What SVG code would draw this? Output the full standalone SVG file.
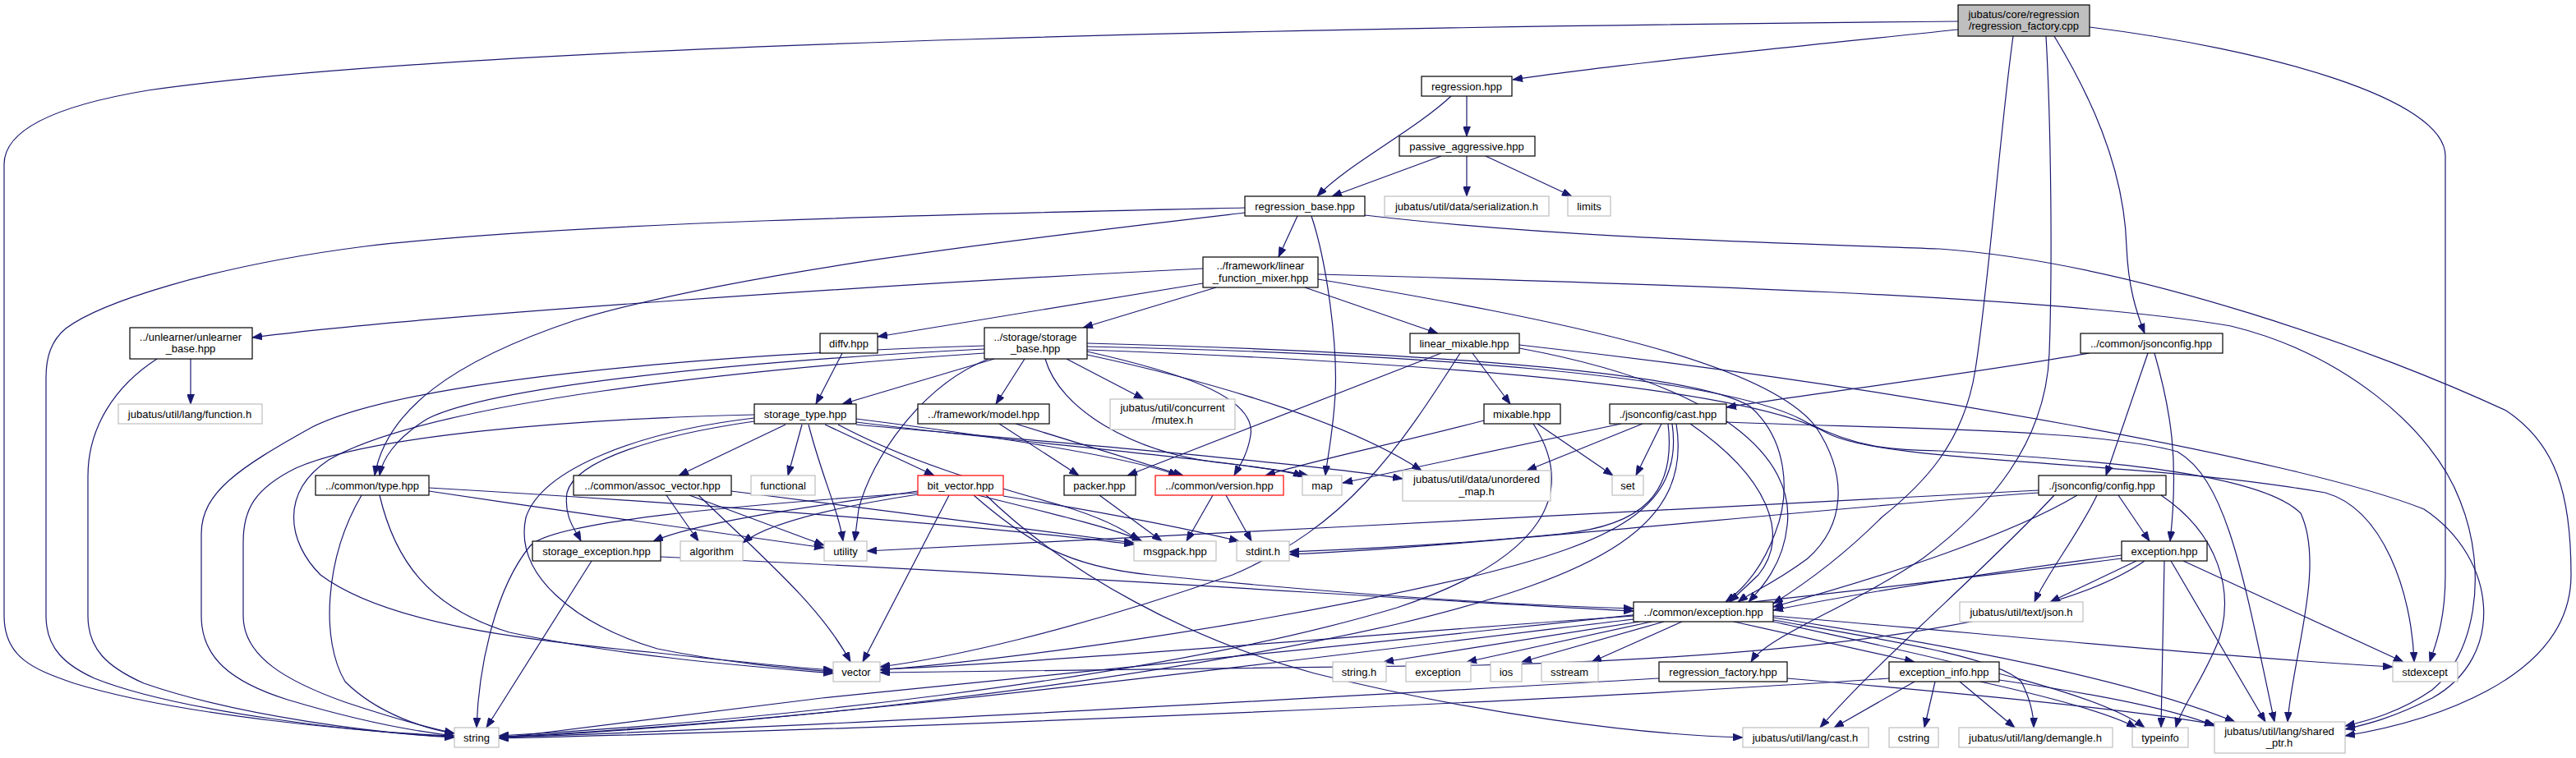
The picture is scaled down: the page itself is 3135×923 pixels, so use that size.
<svg xmlns="http://www.w3.org/2000/svg" width="3135" height="923" viewBox="0 0 3135 923">
<style>
.bg{fill:#fff}
.n rect{fill:#fff;stroke:#000;stroke-width:1.2}
.g rect{fill:#fff;stroke:#bfbfbf;stroke-width:1.2}
.r rect{fill:#fff;stroke:#ff0000;stroke-width:1.2}
.root rect{fill:#bfbfbf;stroke:#000;stroke-width:1.2}
text{font-family:"Liberation Sans",Arial,Helvetica,sans-serif;font-size:13px;text-anchor:middle;fill:#000}
#edges path{fill:none;stroke:#191970;stroke-width:1.2;marker-end:url(#ah)}
</style>
<defs>
<marker id="ah" markerWidth="12" markerHeight="9" refX="12" refY="4.5" orient="auto" markerUnits="userSpaceOnUse"><path d="M0,0 L12,4.5 L0,9 z" fill="#191970" stroke="#191970" stroke-width="0.8"/></marker>
</defs>
<rect class="bg" x="0" y="0" width="3135" height="923"/>
<g id="edges">
<path d="M2383,36 C2200,55 1950,80 1841,97"/>
<path d="M2383,26 C1700,32 600,50 180,110 C60,130 5,160 5,200 L5,750 C5,800 40,815 90,832 C220,872 450,892 553,896"/>
<path d="M2490,44 C2496,150 2498,320 2494,430 C2490,540 2420,620 2340,680 C2250,740 2150,775 2131,806"/>
<path d="M2450,44 C2435,150 2420,350 2404,450 C2390,540 2340,590 2290,630 C2240,680 2190,715 2158,735"/>
<path d="M2500,44 C2540,110 2585,200 2588,300 C2590,350 2600,380 2610,406"/>
<path d="M2543,33 C2760,60 2976,120 2976,190 L2976,700 C2976,760 2962,790 2957,806"/>
<path d="M1766,117 C1720,160 1640,200 1603,239"/>
<path d="M1785,117 L1785,166"/>
<path d="M1754,190 L1621,239"/>
<path d="M1785,190 L1785,239"/>
<path d="M1808,190 L1913,239"/>
<path d="M1515,253 C1200,260 700,270 444,300 C250,325 120,370 80,400 C62,415 56,435 56,460 L56,750 C56,790 80,810 115,826 C220,868 450,893 553,897"/>
<path d="M1515,259 C1250,290 900,330 700,390 C550,440 470,500 456,579"/>
<path d="M1579,263 L1556,313"/>
<path d="M1596,263 C1615,320 1628,420 1625,480 C1622,530 1615,560 1613,579"/>
<path d="M1661,262 C1900,290 2150,295 2360,303 C2600,320 2900,430 3050,500 C3110,540 3129,600 3129,700 C3129,830 2950,880 2854,896"/>
<path d="M1464,327 C1100,345 500,385 307,411"/>
<path d="M1464,345 L1068,410"/>
<path d="M1480,350 L1318,399"/>
<path d="M1588,350 L1750,406"/>
<path d="M1604,340 C1900,390 2150,440 2210,520 C2250,580 2245,640 2200,680 C2160,710 2130,722 2115,733"/>
<path d="M1604,334 C2000,345 2500,360 2715,397 C2850,430 2960,520 2994,610 C3030,700 3010,800 2960,840 C2920,868 2880,878 2854,884"/>
<path d="M232,437 L232,492"/>
<path d="M191,437 C140,470 107,520 107,580 L107,750 C107,790 130,812 175,832 C290,872 460,893 553,898"/>
<path d="M1025,430 L993,492"/>
<path d="M1210,437 L1025,492"/>
<path d="M1247,437 L1212,492"/>
<path d="M1298,437 L1392,486"/>
<path d="M1323,428 C1420,450 1530,480 1522,530 C1518,555 1507,570 1502,579"/>
<path d="M1272,437 C1290,500 1380,550 1480,563 C1540,570 1570,574 1586,580"/>
<path d="M1323,432 C1500,470 1650,520 1730,573"/>
<path d="M1198,421 C900,430 500,460 380,520 C290,570 245,600 245,650 L245,750 C245,800 280,830 350,852 C430,876 500,890 553,896"/>
<path d="M1198,430 C900,450 520,490 400,560 C340,600 350,660 390,700 C470,760 640,780 800,795 C900,806 970,813 1014,816"/>
<path d="M1198,425 C900,440 600,470 520,510 C480,535 465,560 462,579"/>
<path d="M1203,437 C1120,470 1060,560 1045,620 L1040,659"/>
<path d="M1323,418 C1600,425 2050,445 2130,495 C2175,535 2180,600 2160,650 C2145,690 2125,715 2100,733"/>
<path d="M1323,422 C1700,430 2100,455 2200,515 C2260,545 2300,548 2360,549 C2550,560 2750,575 2800,625 C2830,690 2790,800 2784,879"/>
<path d="M1323,426 C1700,440 2120,468 2225,528 C2300,565 2600,560 2830,600 C2900,620 2935,720 2938,806"/>
<path d="M1754,430 L1372,579"/>
<path d="M1792,430 L1838,492"/>
<path d="M1777,430 C1700,550 1640,640 1500,700 C1300,770 1150,802 1071,812"/>
<path d="M1849,424 C2100,470 2185,560 2175,640 C2170,690 2140,720 2128,733"/>
<path d="M1849,420 C2300,470 2800,560 2950,620 C3040,680 3050,800 2960,850 C2910,875 2880,882 2854,888"/>
<path d="M2543,430 C2400,455 2200,480 2101,496"/>
<path d="M2614,430 L2563,579"/>
<path d="M2622,430 C2642,500 2652,560 2641,659"/>
<path d="M956,517 L826,579"/>
<path d="M976,517 L959,579"/>
<path d="M1004,517 L1137,579"/>
<path d="M984,517 C1000,580 1020,620 1026,659"/>
<path d="M1020,517 C1100,560 1200,590 1290,615 C1340,630 1370,645 1386,659"/>
<path d="M1042,514 C1250,540 1500,560 1592,579"/>
<path d="M1042,517 C1300,540 1600,565 1707,583"/>
<path d="M1042,510 C1200,530 1370,555 1434,579"/>
<path d="M918,505 C700,510 450,530 360,570 C310,595 296,620 296,660 L296,750 C296,800 350,830 420,855 C480,875 530,888 553,893"/>
<path d="M918,509 C780,525 660,570 640,630 C625,700 700,760 800,790 C900,810 980,815 1014,818"/>
<path d="M918,513 C800,530 700,560 690,600 C686,630 700,645 707,659"/>
<path d="M1216,516 L1313,579"/>
<path d="M1236,516 L1440,579"/>
<path d="M1806,512 C1700,540 1600,560 1540,579"/>
<path d="M1871,516 L1963,579"/>
<path d="M1866,516 C1920,600 1880,680 1700,740 C1400,830 900,880 607,896"/>
<path d="M1973,516 L1634,588"/>
<path d="M1999,516 L1858,573"/>
<path d="M2022,516 L1991,579"/>
<path d="M2030,516 C2040,600 2000,640 1900,650 C1750,665 1620,670 1569,672"/>
<path d="M2035,516 C2050,620 1960,660 1800,700 C1500,770 1200,805 1071,816"/>
<path d="M2040,516 C2060,640 1950,700 1700,760 C1300,850 800,890 607,898"/>
<path d="M2057,516 C2150,580 2180,650 2140,700 L2105,733"/>
<path d="M2101,514 C2300,522 2550,522 2650,550 C2710,585 2730,700 2768,879"/>
<path d="M440,603 C395,680 390,780 420,830 C460,870 520,888 553,893"/>
<path d="M462,603 C480,680 520,740 620,770 C760,800 920,812 1014,820"/>
<path d="M522,594 C800,610 1200,640 1380,663"/>
<path d="M522,598 C700,625 900,652 1003,667"/>
<path d="M811,603 L850,659"/>
<path d="M839,603 L1003,664"/>
<path d="M850,603 C930,680 1000,740 1035,806"/>
<path d="M890,598 C1100,625 1300,652 1380,661"/>
<path d="M1155,603 L1050,806"/>
<path d="M1117,598 C1000,615 850,635 795,659"/>
<path d="M1117,602 C1000,620 930,640 904,661"/>
<path d="M1117,600 C900,615 670,635 645,665 C600,720 582,820 580,886"/>
<path d="M1190,603 C1300,630 1360,645 1390,659"/>
<path d="M1221,604 C1350,625 1450,645 1508,659"/>
<path d="M1185,603 C1250,660 1300,690 1400,700 C1650,725 1850,737 1988,741"/>
<path d="M1200,603 C1300,700 1450,780 1600,820 C1800,870 2000,895 2121,898"/>
<path d="M1338,603 L1414,659"/>
<path d="M1476,603 L1444,659"/>
<path d="M1492,603 L1523,659"/>
<path d="M2578,603 L2616,659"/>
<path d="M2552,603 C2530,650 2490,700 2476,733"/>
<path d="M2481,597 C2200,610 1500,650 1055,671"/>
<path d="M2481,600 C2200,620 1800,665 1569,675"/>
<path d="M2528,603 C2450,650 2300,700 2158,739"/>
<path d="M2630,603 C2700,650 2720,720 2700,780 C2680,830 2655,860 2648,886"/>
<path d="M2500,603 C2420,690 2290,800 2215,886"/>
<path d="M720,683 L592,886"/>
<path d="M804,678 C1300,700 1700,730 1988,744"/>
<path d="M1995,757 L1684,806"/>
<path d="M2010,757 L1785,806"/>
<path d="M2025,757 L1852,806"/>
<path d="M2047,757 L1937,806"/>
<path d="M2110,757 L2330,806"/>
<path d="M1988,750 C1700,770 1300,805 1071,815"/>
<path d="M1988,754 C1600,800 1000,880 607,897"/>
<path d="M2158,750 C2400,770 2700,800 2912,812"/>
<path d="M2158,752 C2400,790 2600,830 2720,879"/>
<path d="M2158,755 C2300,780 2430,800 2460,830 C2470,850 2475,870 2475,886"/>
<path d="M2158,757 C2350,800 2550,840 2610,886"/>
<path d="M2600,683 L2495,733"/>
<path d="M2634,683 L2630,886"/>
<path d="M2642,683 L2757,879"/>
<path d="M2657,683 L2925,806"/>
<path d="M2582,676 C2400,700 2250,725 2158,743"/>
<path d="M2582,680 C2200,730 1500,800 1000,850 C800,875 680,890 607,899"/>
<path d="M2610,683 C2500,760 2200,800 1800,810 C1500,815 1200,817 1071,819"/>
<path d="M2019,826 C1600,850 1000,885 607,898"/>
<path d="M2175,826 C2400,845 2600,865 2695,882"/>
<path d="M2299,826 C1800,860 1000,890 607,899"/>
<path d="M2330,830 L2232,886"/>
<path d="M2355,830 L2342,886"/>
<path d="M2385,830 L2452,886"/>
<path d="M2410,830 C2500,850 2570,870 2600,886"/>
<path d="M2433,828 C2550,845 2650,865 2695,884"/>
</g>
<g id="n0" class="root"><rect x="2383" y="6" width="160" height="38"/><text x="2463" y="22">jubatus/core/regression</text><text x="2463" y="36">/regression_factory.cpp</text></g>
<g id="n1" class="n"><rect x="1730" y="93" width="110" height="24"/><text x="1785" y="110">regression.hpp</text></g>
<g id="n2" class="n"><rect x="1703" y="166" width="165" height="24"/><text x="1785" y="183">passive_aggressive.hpp</text></g>
<g id="n3" class="n"><rect x="1515" y="239" width="146" height="24"/><text x="1588" y="256">regression_base.hpp</text></g>
<g id="n4" class="g"><rect x="1685" y="239" width="200" height="24"/><text x="1785" y="256">jubatus/util/data/serialization.h</text></g>
<g id="n5" class="g"><rect x="1908" y="239" width="52" height="24"/><text x="1934" y="256">limits</text></g>
<g id="n6" class="n"><rect x="1464" y="313" width="140" height="37"/><text x="1534" y="328">../framework/linear</text><text x="1534" y="343">_function_mixer.hpp</text></g>
<g id="n7" class="n"><rect x="158" y="399" width="149" height="38"/><text x="232" y="415">../unlearner/unlearner</text><text x="232" y="429">_base.hpp</text></g>
<g id="n8" class="g"><rect x="144" y="492" width="175" height="24"/><text x="231" y="509">jubatus/util/lang/function.h</text></g>
<g id="n9" class="n"><rect x="998" y="406" width="70" height="24"/><text x="1033" y="423">diffv.hpp</text></g>
<g id="n10" class="n"><rect x="1198" y="399" width="125" height="38"/><text x="1260" y="415">../storage/storage</text><text x="1260" y="429">_base.hpp</text></g>
<g id="n11" class="n"><rect x="1716" y="406" width="133" height="24"/><text x="1782" y="423">linear_mixable.hpp</text></g>
<g id="n12" class="n"><rect x="2532" y="406" width="173" height="24"/><text x="2618" y="423">../common/jsonconfig.hpp</text></g>
<g id="n13" class="n"><rect x="918" y="492" width="124" height="24"/><text x="980" y="509">storage_type.hpp</text></g>
<g id="n14" class="n"><rect x="1117" y="492" width="160" height="24"/><text x="1197" y="509">../framework/model.hpp</text></g>
<g id="n15" class="g"><rect x="1351" y="486" width="152" height="37"/><text x="1427" y="501">jubatus/util/concurrent</text><text x="1427" y="516">/mutex.h</text></g>
<g id="n16" class="n"><rect x="1806" y="492" width="93" height="24"/><text x="1852" y="509">mixable.hpp</text></g>
<g id="n17" class="n"><rect x="1959" y="492" width="142" height="24"/><text x="2030" y="509">./jsonconfig/cast.hpp</text></g>
<g id="n18" class="n"><rect x="384" y="579" width="138" height="24"/><text x="453" y="596">../common/type.hpp</text></g>
<g id="n19" class="n"><rect x="698" y="579" width="192" height="24"/><text x="794" y="596">../common/assoc_vector.hpp</text></g>
<g id="n20" class="g"><rect x="914" y="579" width="78" height="24"/><text x="953" y="596">functional</text></g>
<g id="n21" class="r"><rect x="1117" y="579" width="104" height="24"/><text x="1169" y="596">bit_vector.hpp</text></g>
<g id="n22" class="n"><rect x="1295" y="579" width="87" height="24"/><text x="1338" y="596">packer.hpp</text></g>
<g id="n23" class="r"><rect x="1406" y="579" width="156" height="24"/><text x="1484" y="596">../common/version.hpp</text></g>
<g id="n24" class="g"><rect x="1585" y="579" width="48" height="24"/><text x="1609" y="596">map</text></g>
<g id="n25" class="g"><rect x="1707" y="573" width="180" height="37"/><text x="1797" y="588">jubatus/util/data/unordered</text><text x="1797" y="603">_map.h</text></g>
<g id="n26" class="g"><rect x="1962" y="579" width="38" height="24"/><text x="1981" y="596">set</text></g>
<g id="n27" class="n"><rect x="2481" y="579" width="155" height="24"/><text x="2558" y="596">./jsonconfig/config.hpp</text></g>
<g id="n28" class="n"><rect x="648" y="659" width="156" height="24"/><text x="726" y="676">storage_exception.hpp</text></g>
<g id="n29" class="g"><rect x="828" y="659" width="76" height="24"/><text x="866" y="676">algorithm</text></g>
<g id="n30" class="g"><rect x="1003" y="659" width="52" height="24"/><text x="1029" y="676">utility</text></g>
<g id="n31" class="g"><rect x="1380" y="659" width="100" height="24"/><text x="1430" y="676">msgpack.hpp</text></g>
<g id="n32" class="g"><rect x="1505" y="659" width="64" height="24"/><text x="1537" y="676">stdint.h</text></g>
<g id="n33" class="n"><rect x="1988" y="733" width="170" height="24"/><text x="2073" y="750">../common/exception.hpp</text></g>
<g id="n34" class="n"><rect x="2582" y="659" width="104" height="24"/><text x="2634" y="676">exception.hpp</text></g>
<g id="n35" class="g"><rect x="2385" y="733" width="150" height="24"/><text x="2460" y="750">jubatus/util/text/json.h</text></g>
<g id="n36" class="g"><rect x="1014" y="806" width="57" height="24"/><text x="1042" y="823">vector</text></g>
<g id="n37" class="g"><rect x="1622" y="806" width="65" height="24"/><text x="1654" y="823">string.h</text></g>
<g id="n38" class="g"><rect x="1711" y="806" width="79" height="24"/><text x="1750" y="823">exception</text></g>
<g id="n39" class="g"><rect x="1814" y="806" width="38" height="24"/><text x="1833" y="823">ios</text></g>
<g id="n40" class="g"><rect x="1876" y="806" width="69" height="24"/><text x="1910" y="823">sstream</text></g>
<g id="n41" class="n"><rect x="2019" y="806" width="156" height="24"/><text x="2097" y="823">regression_factory.hpp</text></g>
<g id="n42" class="n"><rect x="2299" y="806" width="134" height="24"/><text x="2366" y="823">exception_info.hpp</text></g>
<g id="n43" class="g"><rect x="2912" y="806" width="79" height="24"/><text x="2951" y="823">stdexcept</text></g>
<g id="n44" class="g"><rect x="553" y="886" width="54" height="24"/><text x="580" y="903">string</text></g>
<g id="n45" class="g"><rect x="2121" y="886" width="153" height="24"/><text x="2197" y="903">jubatus/util/lang/cast.h</text></g>
<g id="n46" class="g"><rect x="2299" y="886" width="60" height="24"/><text x="2329" y="903">cstring</text></g>
<g id="n47" class="g"><rect x="2384" y="886" width="187" height="24"/><text x="2477" y="903">jubatus/util/lang/demangle.h</text></g>
<g id="n48" class="g"><rect x="2595" y="886" width="68" height="24"/><text x="2629" y="903">typeinfo</text></g>
<g id="n49" class="g"><rect x="2695" y="879" width="159" height="38"/><text x="2774" y="895">jubatus/util/lang/shared</text><text x="2774" y="909">_ptr.h</text></g>
</svg>
